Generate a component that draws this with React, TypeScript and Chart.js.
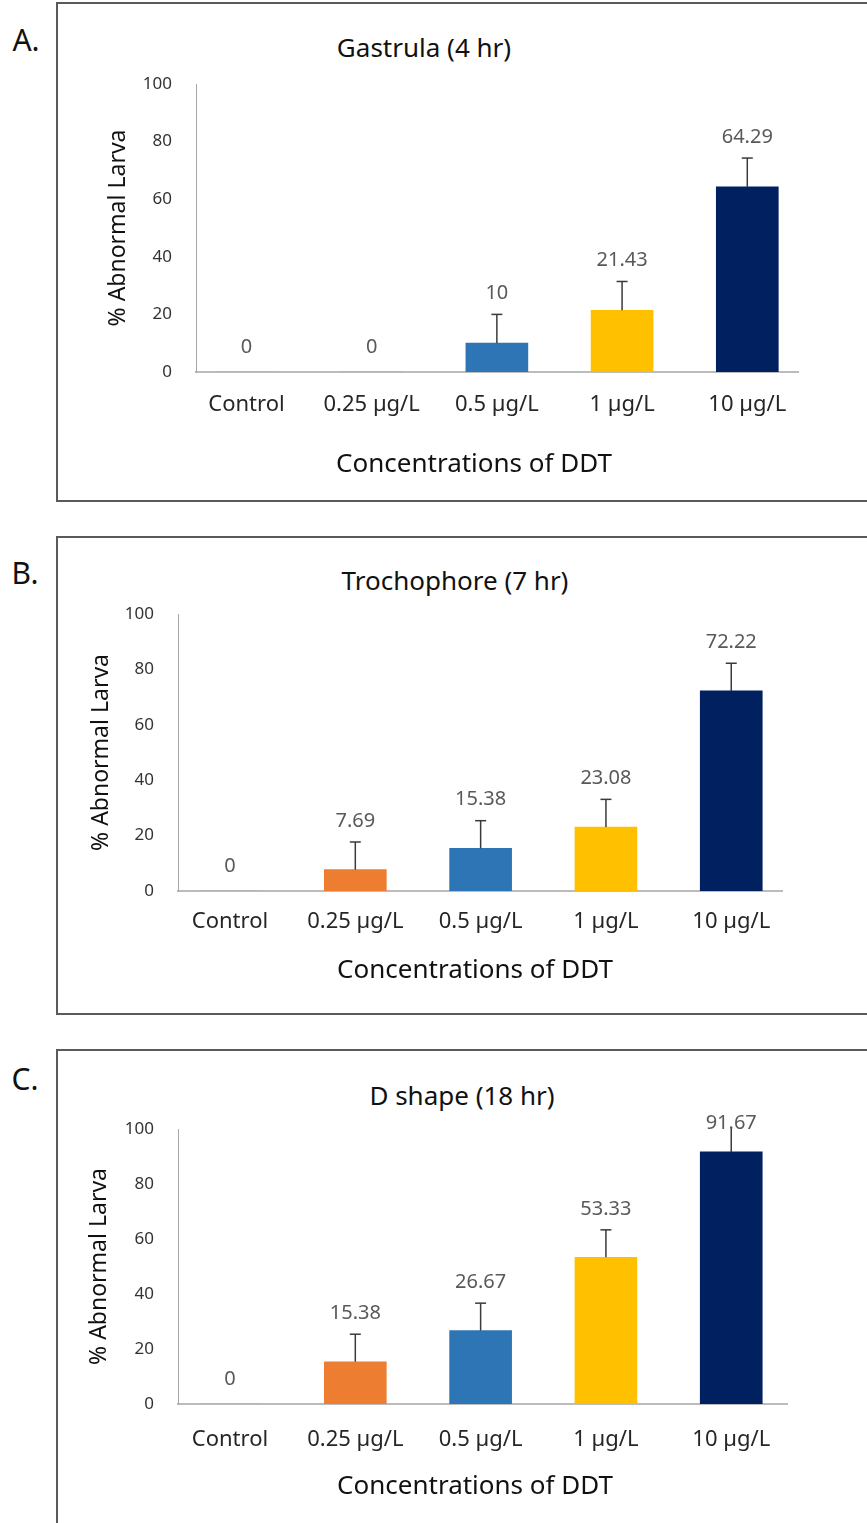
import React, { useEffect, useRef } from 'react';
import { Chart, registerables } from 'chart.js';

Chart.register(...registerables);

// ---------- data ----------
const categories = ['Control', '0.25 µg/L', '0.5 µg/L', '1 µg/L', '10 µg/L'];
const yTicks = [0, 20, 40, 60, 80, 100];

const gastrulaValues = [0, 0, 10, 21.43, 64.29];
const gastrulaErrors = [0, 0, 10, 10, 10];

const trochophoreValues = [0, 7.69, 15.38, 23.08, 72.22];
const trochophoreErrors = [0, 10, 10, 10, 10];

const dShapeValues = [0, 15.38, 26.67, 53.33, 91.67];
const dShapeErrors = [0, 10, 10, 10, 10];

const barColors = ['#A5A5A5', '#ED7D31', '#2E75B6', '#FFC000', '#002060'];

const panelTitles = ['Gastrula (4 hr)', 'Trochophore (7 hr)', 'D shape (18 hr)'];
const panelLetters = ['A.', 'B.', 'C.'];
const yAxisTitle = '% Abnormal Larva';
const xAxisTitle = 'Concentrations of DDT';

const FONT = "'Noto Sans', 'DejaVu Sans', sans-serif";
const PAGE_W = 867;

type PanelProps = {
  values: number[];
  errors: number[];
  canvasTop: number;
  canvasHeight: number;
  plotLeft: number;
  plotRight: number;
  plotTop: number;
  plotBottom: number;
  xMin: number;
  xMax: number;
  xTickPad: number;
  yTitlePad: number;
};

function PanelChart(p: PanelProps) {
  const ref = useRef<HTMLCanvasElement>(null);
  useEffect(() => {
    const canvas = ref.current!;
    const H = p.canvasHeight;
    const errLabels = {
      id: 'errLabels',
      afterDatasetsDraw(chart: any) {
        const c = chart.ctx;
        const ys = chart.scales.y;
        const meta = chart.getDatasetMeta(0);
        const area = chart.chartArea;
        c.save();
        p.values.forEach((v, i) => {
          const bar = meta.data[i];
          const x = bar.x;
          const e = p.errors[i];
          const hi = v + e;
          if (e > 0) {
            const yTop = ys.getPixelForValue(Math.min(hi, ys.max));
            const yBase = ys.getPixelForValue(v);
            c.strokeStyle = '#3a3a3a';
            c.lineWidth = 1.5;
            c.beginPath();
            c.moveTo(x, yBase);
            c.lineTo(x, yTop);
            c.stroke();
            if (hi <= ys.max) {
              c.beginPath();
              c.moveTo(x - 5.5, yTop);
              c.lineTo(x + 5.5, yTop);
              c.stroke();
            }
          }
          let ly = ys.getPixelForValue(hi) - (e > 0 ? 21 : 25);
          ly = Math.max(ly, area.top - 6);
          c.font = `20px ${FONT}`;
          c.fillStyle = '#595959';
          c.textAlign = 'center';
          c.textBaseline = 'middle';
          c.fillText(String(v), x, ly);
        });
        c.restore();
      },
    };

    const chart = new Chart(canvas, {
      type: 'bar',
      data: {
        datasets: [
          {
            data: p.values.map((v, i) => ({ x: i, y: v })) as any,
            backgroundColor: barColors,
            borderWidth: 0,
            barThickness: 62,
          },
        ],
      },
      options: {
        responsive: false,
        animation: false,
        devicePixelRatio: 1,
        layout: { padding: { left: 0, right: PAGE_W - p.plotRight, top: p.plotTop, bottom: 0 } },
        plugins: {
          legend: { display: false },
          tooltip: { enabled: false },
          title: { display: false },
        },
        scales: {
          x: {
            type: 'linear',
            offset: false,
            bounds: 'data',
            min: p.xMin,
            max: p.xMax,
            grid: { display: false, drawTicks: false, offset: false },
            border: { display: true, color: '#bcbcbc', width: 2 },
            afterBuildTicks: (s: any) => {
              s.ticks = categories.map((_, i) => ({ value: i }));
            },
            afterFit: (s: any) => {
              s.height = H - p.plotBottom;
            },
            ticks: {
              callback: (v: any) => categories[Math.round(Number(v))] ?? '',
              autoSkip: false,
              maxRotation: 0,
              minRotation: 0,
              padding: p.xTickPad,
              color: '#262626',
              font: { family: FONT, size: 22 },
            },
          },
          y: {
            min: yTicks[0],
            max: yTicks[yTicks.length - 1],
            afterBuildTicks: (s: any) => {
              s.ticks = yTicks.map((v) => ({ value: v }));
            },
            ticks: {
              padding: 24,
              color: '#333333',
              font: { family: FONT, size: 17 },
            },
            grid: { display: false, drawTicks: false },
            border: { display: true, color: '#a6a6a6', width: 1 },
            title: {
              display: true,
              text: yAxisTitle,
              color: '#111111',
              font: { family: FONT, size: 23 },
              padding: { top: p.yTitlePad, bottom: 0 },
            },
            afterFit: (s: any) => {
              s.width = p.plotLeft;
            },
          },
        },
      } as any,
      plugins: [errLabels],
    });
    return () => chart.destroy();
  }, []);
  return (
    <canvas
      ref={ref}
      width={PAGE_W}
      height={p.canvasHeight}
      style={{ position: 'absolute', left: 0, top: p.canvasTop, display: 'block' }}
    />
  );
}

function Txt(props: { x: number; y: number; size: number; children: React.ReactNode }) {
  return (
    <div
      style={{
        position: 'absolute',
        left: props.x,
        top: props.y,
        transform: 'translate(-50%, -50%)',
        fontFamily: FONT,
        fontSize: props.size,
        lineHeight: 1,
        whiteSpace: 'nowrap',
        color: '#111111',
      }}
    >
      {props.children}
    </div>
  );
}

function Box(props: { top: number; height: number }) {
  return (
    <div
      style={{
        position: 'absolute',
        left: 56,
        top: props.top,
        width: 900,
        height: props.height,
        border: '2px solid #5a5a5a',
        boxSizing: 'border-box',
      }}
    />
  );
}

export default function App() {
  return (
    <div
      style={{
        position: 'fixed',
        left: 0,
        top: 0,
        width: PAGE_W,
        height: 1523,
        overflow: 'hidden',
        background: '#ffffff',
      }}
    >
      <Box top={2} height={500} />
      <Box top={536} height={479} />
      <Box top={1049} height={520} />

      <Txt x={26} y={40} size={30}>{panelLetters[0]}</Txt>
      <Txt x={25} y={573} size={30}>{panelLetters[1]}</Txt>
      <Txt x={25} y={1079} size={30}>{panelLetters[2]}</Txt>

      <Txt x={424} y={47} size={26}>{panelTitles[0]}</Txt>
      <Txt x={455} y={580} size={26}>{panelTitles[1]}</Txt>
      <Txt x={462} y={1095} size={26}>{panelTitles[2]}</Txt>

      <PanelChart
        values={gastrulaValues}
        errors={gastrulaErrors}
        canvasTop={0}
        canvasHeight={510}
        plotLeft={196}
        plotRight={798}
        plotTop={84}
        plotBottom={372}
        xMin={-0.403}
        xMax={4.405}
        xTickPad={20}
        yTitlePad={105}
      />
      <PanelChart
        values={trochophoreValues}
        errors={trochophoreErrors}
        canvasTop={520}
        canvasHeight={510}
        plotLeft={178}
        plotRight={782}
        plotTop={94}
        plotBottom={371}
        xMin={-0.415}
        xMax={4.405}
        xTickPad={18}
        yTitlePad={88}
      />
      <PanelChart
        values={dShapeValues}
        errors={dShapeErrors}
        canvasTop={1030}
        canvasHeight={493}
        plotLeft={178}
        plotRight={787}
        plotTop={99}
        plotBottom={374}
        xMin={-0.415}
        xMax={4.445}
        xTickPad={23}
        yTitlePad={86}
      />

      <Txt x={474} y={462} size={26}>{xAxisTitle}</Txt>
      <Txt x={475} y={968} size={26}>{xAxisTitle}</Txt>
      <Txt x={475} y={1484} size={26}>{xAxisTitle}</Txt>
    </div>
  );
}
